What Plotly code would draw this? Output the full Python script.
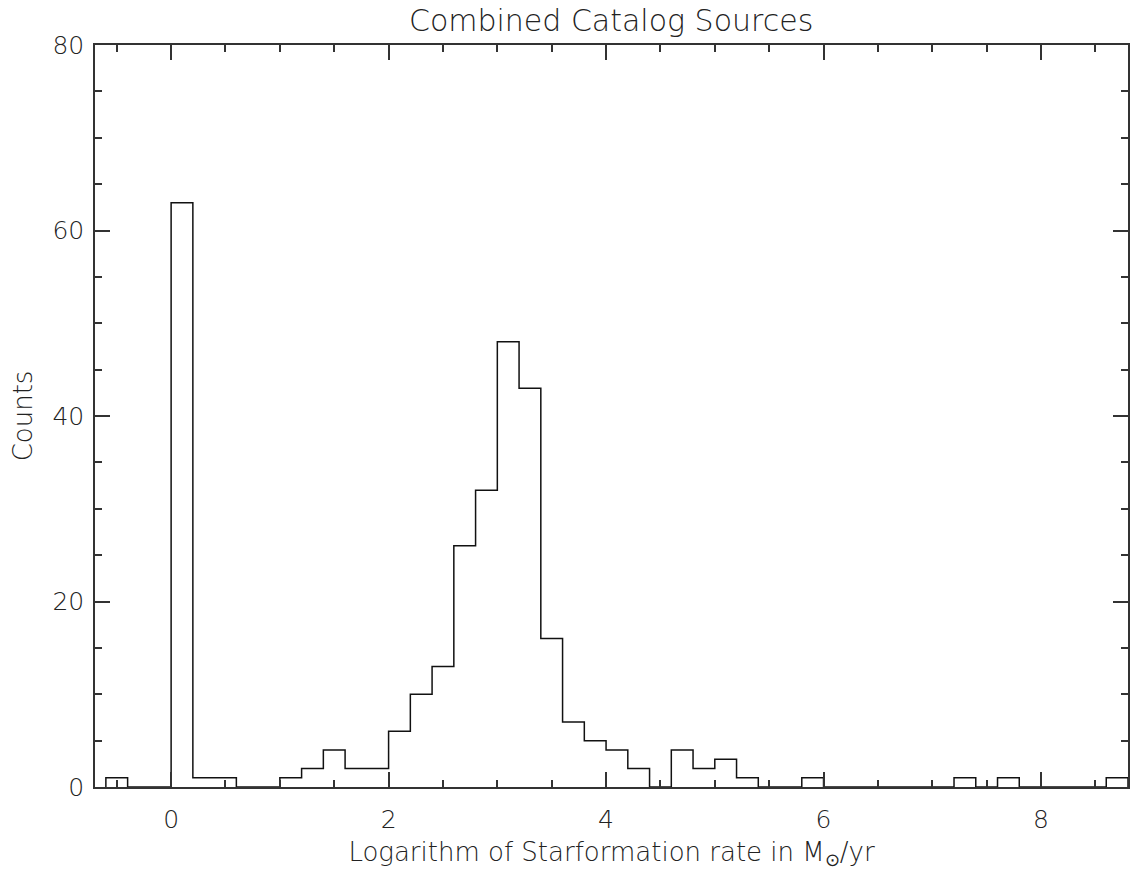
import plotly.graph_objects as go

# Histogram data (bin width 0.2, first bin starts at -0.6)
bin_start = -0.6
bin_width = 0.2
counts = [1, 0, 0, 63, 1, 1, 0, 0, 1, 2, 4, 2, 2, 6, 10, 13, 26, 32, 48, 43,
          16, 7, 5, 4, 2, 0, 4, 2, 3, 1, 0, 0, 1, 0, 0, 0, 0, 0, 0, 1,
          0, 1, 0, 0, 0, 0, 1]

title = "Combined Catalog Sources"
xlabel = "Logarithm of Starformation rate in M<sub>⊙</sub>/yr"
ylabel = "Counts"
x_ticks = [0, 2, 4, 6, 8]
y_ticks = [0, 20, 40, 60, 80]

n = len(counts)
edges = [round(bin_start + i * bin_width, 6) for i in range(n + 1)]
xs = [edges[0]] + edges
ys = [0] + counts + [0]

FONT = "DejaVu Sans"
TXT = "#222222"

fig = go.Figure()
fig.add_trace(go.Scatter(x=xs, y=ys, mode="lines", line_shape="hv",
                         line=dict(color="#111111", width=1.5),
                         hoverinfo="skip", showlegend=False))

axis_common = dict(showgrid=False, zeroline=False, showline=True, linecolor="#333333",
                   linewidth=1.5, mirror="allticks", ticks="inside",
                   tickcolor="#333333", tickwidth=1.5, automargin=False,
                   tickfont=dict(family=FONT, size=25, color=TXT, weight=200))

fig.update_layout(
    width=1138, height=871,
    margin=dict(l=95, r=10, t=45, b=84),
    paper_bgcolor="white", plot_bgcolor="white",
    title=dict(text=title, x=0.537, xanchor="center", y=0.977, yanchor="middle",
               font=dict(family=FONT, size=30, color=TXT, weight=200)),
    xaxis=dict(range=[-0.7, 8.8], tickvals=x_ticks, ticklen=15, ticklabelstandoff=9,
               minor=dict(dtick=0.5, tick0=0, ticks="inside", ticklen=7,
                          tickcolor="#333333", tickwidth=1.5),
               title=dict(text=xlabel, font=dict(family=FONT, size=26, color=TXT, weight=200),
                          standoff=10),
               **axis_common),
    yaxis=dict(range=[0, 80], tickvals=y_ticks, ticklen=15, ticklabelstandoff=4,
               minor=dict(dtick=5, tick0=0, ticks="inside", ticklen=7,
                          tickcolor="#333333", tickwidth=1.5),
               title=dict(text=ylabel, font=dict(family=FONT, size=26, color=TXT, weight=200),
                          standoff=12),
               **axis_common),
)

fig.write_html("out.html")
